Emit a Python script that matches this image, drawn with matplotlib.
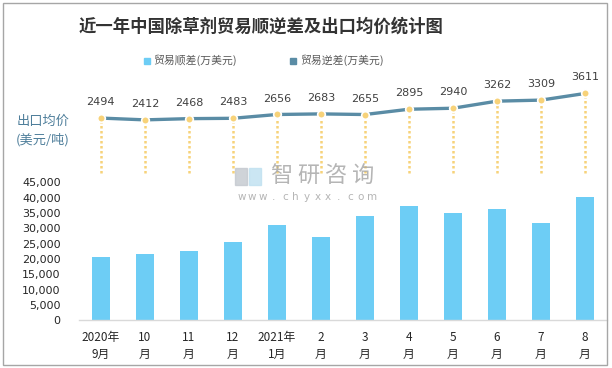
import matplotlib
matplotlib.use("Agg")
import matplotlib.pyplot as plt
from matplotlib.patches import Rectangle

plt.rcParams['font.family'] = ['Noto Sans CJK SC', 'DejaVu Sans']

# ---- data ----
x_labels = ["2020年\n9月", "10\n月", "11\n月", "12\n月", "2021年\n1月", "2\n月",
            "3\n月", "4\n月", "5\n月", "6\n月", "7\n月", "8\n月"]
trade_surplus = [20700, 21600, 22600, 25500, 31100, 27200,
                 34000, 37300, 35000, 36300, 31700, 40200]
export_price = [2494, 2412, 2468, 2483, 2656, 2683, 2655, 2895, 2940, 3262, 3309, 3611]
y_ticks = [0, 5000, 10000, 15000, 20000, 25000, 30000, 35000, 40000, 45000]

title = "近一年中国除草剂贸易顺逆差及出口均价统计图"
legend_labels = ["贸易顺差(万美元)", "贸易逆差(万美元)"]

W, H = 612, 368
fig = plt.figure(figsize=(W / 100, H / 100), dpi=100)

def fx(px):
    return px / W

def fy(py):
    return 1 - py / H

bar_color = "#6DCDF5"
line_color = "#5A8CA5"
gold = "#F7D279"

# ---- bar axes ----
left_px, right_px = 78.8, 607
bottom_px, top_px = 320.3, 182.3
axb = fig.add_axes([fx(left_px), fy(bottom_px), fx(right_px - left_px), (bottom_px - top_px) / H])
xs = list(range(len(trade_surplus)))
axb.bar(xs, trade_surplus, width=0.41, color=bar_color, zorder=2)
axb.set_xlim(-0.5, len(xs) - 0.5)
axb.set_ylim(0, 45000)
axb.set_yticks(y_ticks)
axb.set_yticklabels([f"{v:,}" for v in y_ticks], fontsize=8, color="#262626",
                    family=['DejaVu Sans'])
axb.set_xticks(xs)
axb.set_xticklabels(x_labels, fontsize=8.5, color="#262626", linespacing=1.35)
axb.tick_params(axis='both', length=0)
axb.tick_params(axis='y', pad=13)
axb.tick_params(axis='x', pad=8)
for s in ['top', 'right', 'left']:
    axb.spines[s].set_visible(False)
axb.spines['bottom'].set_color("#D9D9D9")
axb.spines['bottom'].set_linewidth(1)
axb.patch.set_alpha(0)

# ---- line axes ----
line_bottom_px = 173
scale = 45.4  # value per pixel
ymax = 4000
axl = fig.add_axes([fx(left_px), fy(line_bottom_px), fx(right_px - left_px), (ymax / scale) / H])
axl.set_xlim(-0.5, len(xs) - 0.5)
axl.set_ylim(0, ymax)
axl.vlines(xs, 0, export_price, colors=gold, linestyles=(0, (1, 1)), linewidth=1.8,
           clip_on=False, zorder=1)
axl.plot(xs, export_price, color=line_color, linewidth=2.4, zorder=2,
         marker='o', markersize=5.5, markerfacecolor=gold,
         markeredgecolor='white', markeredgewidth=1.2, clip_on=False)
for x, v in zip(xs, export_price):
    axl.annotate(f"{v}", (x, v), xytext=(0, 11.5), textcoords='offset points',
                 ha='center', va='center', fontsize=8, color="#404040",
                 family=['DejaVu Sans'])
axl.axis('off')

# ---- title ----
fig.text(fx(261), fy(26.7), title, ha='center', va='center', fontsize=12.5,
         fontweight='bold', color="#333333")

# ---- legend ----
for (sx, tx, col, lab) in [(147, 153, bar_color, legend_labels[0]),
                           (293, 300, line_color, legend_labels[1])]:
    fig.patches.append(Rectangle((fx(sx - 3), fy(60.7 + 3)), fx(6), 6 / H,
                                 transform=fig.transFigure, color=col))
    fig.text(fx(tx), fy(60.7), lab, ha='left', va='center', fontsize=7.8, color="#595959")

# ---- left label ----
fig.text(fx(17), fy(121.7), "出口均价", ha='left', va='center', fontsize=9.5, color="#4F7F9B")
fig.text(fx(16), fy(139.3), "(美元/吨)", ha='left', va='center', fontsize=9.5, color="#4F7F9B")

# ---- watermark ----
wm_color = "#A8A8A8"
fig.patches.append(Rectangle((fx(235), fy(185)), fx(12), 17 / H, transform=fig.transFigure,
                             color="#C3C8CF", alpha=0.8, zorder=5))
fig.patches.append(Rectangle((fx(249), fy(185)), fx(12), 17 / H, transform=fig.transFigure,
                             color="#BFE0F0", alpha=0.8, zorder=5))
for i, ch in enumerate("智研咨询"):
    fig.text(fx(268 + 13.5 + 27.3 * i), fy(175.8), ch, ha='center', va='center',
             fontsize=16, color=wm_color, alpha=0.85, zorder=6)
url = "www.chyxx.com"
step = (377 - 236) / len(url)
for i, ch in enumerate(url):
    fig.text(fx(236 + step * (i + 0.5)), fy(197.3), ch, ha='center', va='center',
             fontsize=7.5, color=wm_color, alpha=0.85, family=['DejaVu Sans'], zorder=6)

# ---- border ----
fig.patches.append(Rectangle((fx(3), fy(365)), fx(604), 362 / H, transform=fig.transFigure,
                             fill=False, edgecolor="#A6A6A6", linewidth=1))

fig.savefig("out.png", dpi=100)
